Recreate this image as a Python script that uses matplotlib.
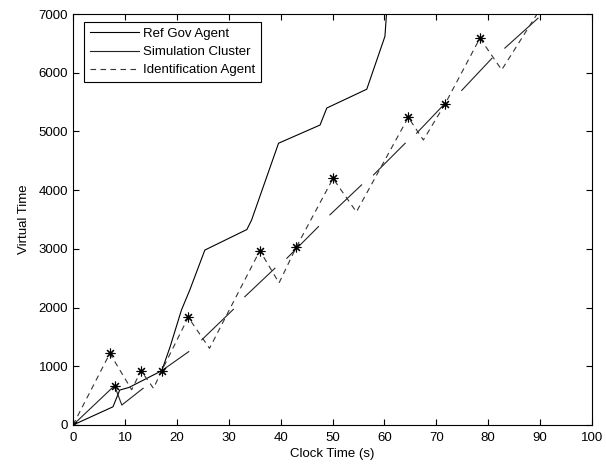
import numpy as np
import matplotlib
matplotlib.use('Agg')
import matplotlib.pyplot as plt

plt.rcParams['font.family'] = ['Liberation Sans', 'DejaVu Sans']

# Ref Gov Agent (solid)
ref_x = [0, 7.7, 9.0, 10.8, 17.1, 18.7, 20.9, 22.5, 25.4, 33.5, 34.4, 39.6, 47.6, 48.9, 56.6, 60.1, 60.4]
ref_y = [0, 310, 595, 640, 925, 1330, 1960, 2300, 2980, 3330, 3490, 4800, 5110, 5400, 5720, 6620, 7000]

# Simulation Cluster (solid, broken into pieces)
sim_x = [0, 8.0, 9.4, 13.5, np.nan, 17.1, 22.3, np.nan, 24.8, 30.9, np.nan, 33.1, 38.9, np.nan,
         41.2, 47.3, np.nan, 49.5, 55.6, np.nan, 57.9, 64.0, np.nan, 66.2, 71.7, np.nan,
         74.9, 80.7, np.nan, 83.2, 89.6]
sim_y = [0, 670, 340, 625, np.nan, 925, 1250, np.nan, 1450, 1970, np.nan, 2185, 2670, np.nan,
         2840, 3380, np.nan, 3580, 4090, np.nan, 4260, 4800, np.nan, 4970, 5480, np.nan,
         5700, 6245, np.nan, 6420, 6930]

# Identification Agent (dashed)
ident_x = [0, 7.1, 11.3, 13.1, 15.5, 17.1, 22.2, 26.3, 36.0, 39.7, 43.0, 50.1, 54.6, 64.6, 67.5, 71.7, 78.4, 82.6, 89.3, 90.5]
ident_y = [0, 1220, 600, 925, 625, 925, 1835, 1306, 2970, 2420, 3027, 4200, 3630, 5240, 4855, 5470, 6590, 6050, 6985, 7100]

# identification events (stars)
star_x = [0, 7.1, 8.0, 13.1, 17.1, 22.2, 36.0, 43.0, 50.1, 64.6, 71.7, 78.4]
star_y = [0, 1220, 670, 925, 925, 1835, 2970, 3027, 4200, 5240, 5470, 6590]

fig = plt.figure(figsize=(6.06, 4.68), dpi=100)
ax = fig.add_axes([0.1205, 0.0919, 0.8564, 0.878])

ax.plot(ref_x, ref_y, color='black', lw=0.8, label='Ref Gov Agent')
ax.plot(sim_x, sim_y, color='#222222', lw=0.8, label='Simulation Cluster')
ax.plot(ident_x, ident_y, color='#333333', lw=0.8, dashes=(5, 4), label='Identification Agent')
ax.plot(star_x, star_y, linestyle='none', marker=(8, 2, 0), markersize=7,
        markeredgecolor='black', markeredgewidth=0.8, label='_nolegend_')

ax.set_xlim(0, 100)
ax.set_ylim(0, 7000)
ax.set_xticks(range(0, 101, 10))
ax.set_yticks(range(0, 7001, 1000))
ax.tick_params(direction='in', top=True, right=True, length=4, width=0.8, labelsize=9.5)
ax.tick_params(axis='x', pad=5)
for s in ax.spines.values():
    s.set_linewidth(0.8)

ax.set_xlabel('Clock Time (s)', fontsize=9.5, labelpad=3)
ax.set_ylabel('Virtual Time', fontsize=9.5, labelpad=6)

leg = ax.legend(loc='upper left', bbox_to_anchor=(0.021, 0.981), borderaxespad=0,
                fontsize=9.5, handlelength=3.7, handletextpad=0.35, labelspacing=0.45,
                borderpad=0.45, fancybox=False, framealpha=1, edgecolor='black')
leg.get_frame().set_linewidth(0.8)

fig.savefig('out.png', dpi=100)
